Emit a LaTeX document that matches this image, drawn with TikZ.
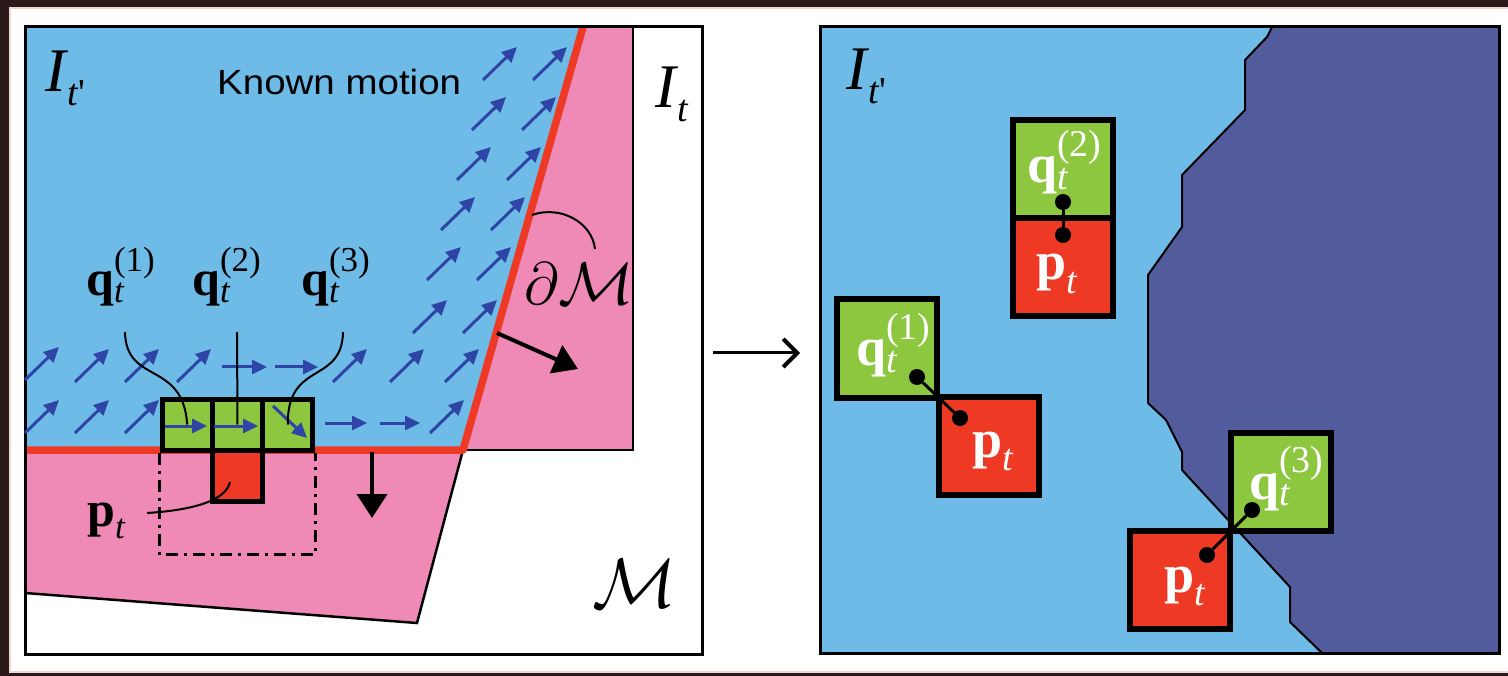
\RequirePackage{fix-cm}
\documentclass[tikz,border=0pt]{standalone}
\usepackage{amsmath}
\usepackage{graphicx}
\usepackage{fontspec}
\setmainfont{Liberation Serif}
\newfontfamily\arialf{Liberation Sans}
\usetikzlibrary{arrows.meta}
\definecolor{skyb}{HTML}{6EBBE8}
\definecolor{pinkm}{HTML}{EF8AB6}
\definecolor{grn}{HTML}{8DC63F}
\definecolor{redb}{HTML}{EE3A24}
\definecolor{darkb}{HTML}{525C9C}
\definecolor{arrb}{HTML}{2E45A5}
\definecolor{framedark}{HTML}{2B1A1A}
\definecolor{framepink}{HTML}{F2D6D2}
\tikzset{
  motion/.style={draw=arrb, line width=3pt, -{Triangle[length=15pt,width=14pt]}},
  frameline/.style={draw=black, line width=3pt},
  thinline/.style={draw=black, line width=2.5pt},
  lbox/.style={draw=black, line width=5pt, inner sep=0pt, minimum width=50.3pt, minimum height=51pt},
  rbox/.style={draw=black, line width=6pt, inner sep=0pt, minimum width=100pt, minimum height=98pt},
  leader/.style={draw=black, line width=2pt},
  bigarrow/.style={draw=black, line width=4pt, -{Triangle[length=24pt,width=30pt]}},
  blackdot/.style={circle, fill=black, inner sep=0pt, minimum size=16pt},
  dotlink/.style={draw=black, line width=3pt},
  lab/.style={inner sep=0pt, anchor=base west, font=\fontsize{50}{54}\selectfont},
  wlab/.style={inner sep=0pt, anchor=base west, text=white, font=\fontsize{54}{58}\selectfont},
  ilab/.style={inner sep=0pt, anchor=base west, font=\fontsize{62}{66}\selectfont},
}
\newcommand{\qlab}[1]{$\textbf{q}_{\textit{t}}^{\textrm{(#1)}}$}
\newcommand{\plab}{$\textbf{p}_{\textit{t}}$}
\newcommand{\Ilab}[1]{\textit{I}\kern-1pt\raisebox{-14pt}{\fontsize{38}{38}\selectfont\textit{t}#1}}
\begin{document}
\begin{tikzpicture}[x=1pt,y=-1pt]
\useasboundingbox (0,0) rectangle (1508,676);
% outer frame
\fill[framedark] (0,0) rectangle (1508,676);
\draw[framepink, line width=1.5pt, fill=white] (10,8) rectangle (1514,672);

% ---------------- left panel ----------------
\fill[skyb] (25,27) -- (583,27) -- (463,450) -- (25,450) -- cycle;
\fill[pinkm] (583,27) -- (633,27) -- (633,450) -- (463,450) -- cycle;
\fill[pinkm] (25,450) -- (463,450) -- (417,623) -- (25,593) -- cycle;
\draw[thinline] (633,27) -- (633,450) -- (463,450);
\draw[thinline] (25,593) -- (417,623) -- (463,450);
\draw[redb, line width=7.5pt, line join=round] (25,450) -- (463,450) -- (583,27);
\draw[frameline] (25,27) rectangle (702,654);

% motion field
\foreach \x/\y in {483/80,533/80,472/130,522/130,457/180,507/180,441/230,491/230,
  427/280,477/280,413/333,463/333,
  25/380,75/382,125/382,177/382,333/382,390/382,445/382,
  25/433,75/433,125/433,430/433}
  \draw[motion] (\x,\y) -- ++(34,-33);
\foreach \x/\y/\l in {222/367/45,275/367/43,325/423/42,380/423/40}
  \draw[motion] (\x,\y) -- ++(\l,0);

% patch boxes
\node[lbox, fill=redb] (pbox) at (237.5,476) {};
\node[lbox, fill=grn] (q1box) at (187.2,424.5) {};
\node[lbox, fill=grn] (q2box) at (237.5,424.5) {};
\node[lbox, fill=grn] (q3box) at (287.8,424.5) {};
\draw[motion] (165,426) -- (207,426);
\draw[motion] (214,426) -- (258,426);
\draw[motion] (273,406) -- (307,438);
\draw[black, line width=3pt, dash pattern=on 12pt off 6pt on 3pt off 6pt]
  (q1box.south west) -- ++(0,102) -| (q3box.south east);

% normal arrows
\coordinate (n1a) at (372,452);
\coordinate (n1b) at (372,518);
\coordinate (n2a) at (497,333);
\coordinate (n2b) at (578,369);
\draw[bigarrow] (n1a) -- (n1b);
\draw[bigarrow] (n2a) -- (n2b);

% labels left
\node[ilab] (itp1) at (45,92) {\Ilab{\textquotesingle}};
\node[ilab] (it1) at (655,108) {\Ilab{}};
\node[inner sep=0pt, anchor=base west, font=\arialf\fontsize{35}{38}\selectfont] (known) at (217,95) {\scalebox{1.1}[1]{Known motion}};
\node[lab] (lq1) at (86,296) {\qlab{1}};
\node[lab] (lq2) at (192,296) {\qlab{2}};
\node[lab] (lq3) at (301,296) {\qlab{3}};
\node[lab] (lp) at (87,526) {\plab};
\node[inner sep=0pt, anchor=base west, font=\fontsize{60}{64}\selectfont] (dM) at (524,305) {$\partial\scalebox{1.05}[1]{$\mathcal{M}$}$};
\node[inner sep=0pt, anchor=base west, font=\fontsize{70}{74}\selectfont] (M) at (592,607) {$\mathcal{M}$};

% leaders
\coordinate (l1) at (125,332);
\coordinate (l2) at (237,332);
\coordinate (l3) at (343,332);
\coordinate (lp0) at (147,513);
\coordinate (lp1) at (230,482);
\coordinate (ld0) at (532,215);
\coordinate (ld1) at (595,249);
\draw[leader] (l1) .. controls (126,385) and (183,360) .. (q1box.center);
\draw[leader] (l2) -- (q2box.center);
\draw[leader] (l3) .. controls (342,385) and (287,360) .. (q3box.center);
\draw[leader] (lp0) .. controls (195,510) and (226,500) .. (lp1);
\draw[leader] (ld0) .. controls (560,205) and (592,222) .. (ld1);

% middle arrow
\coordinate (ma) at (713,353);
\coordinate (mb) at (800,353);
\draw[black, line width=3pt, -{Straight Barb[length=14pt,width=28pt,line width=4pt]}] (ma) -- (mb);

% ---------------- right panel ----------------
\fill[skyb] (820,27) rectangle (1499,653);
\filldraw[fill=darkb, draw=black, line width=2pt, line join=round]
  (1272,27) -- (1267,37) -- (1245,60) -- (1245,110) -- (1182,175) -- (1182,227)
  -- (1148,275) -- (1148,403) -- (1166,420) -- (1182,452) -- (1182,470)
  -- (1290,587) -- (1290,622) -- (1322,653) -- (1499,653) -- (1499,27) -- cycle;
\draw[frameline] (820,27) rectangle (1499,653);
\node[ilab] (itp2) at (846,90) {\Ilab{\textquotesingle}};

\node[rbox, fill=grn] (g2) at (1062.5,169.5) {};
\node[rbox, fill=redb] (r2) at (1062.5,267.5) {};
\node[rbox, fill=grn] (g1) at (887,348.5) {};
\node[rbox, fill=redb] (r1) at (989,446) {};
\node[rbox, fill=redb] (r3) at (1180,580) {};
\node[rbox, fill=grn] (g3) at (1280.5,481.5) {};

\node[wlab] (tq2) at (1027,183) {\qlab{2}};
\node[wlab] (tp2) at (1036,280) {\plab};
\node[wlab] (tq1) at (856,366) {\qlab{1}};
\node[wlab] (tp1) at (972,457) {\plab};
\node[wlab] (tq3) at (1249,499) {\qlab{3}};
\node[wlab] (tp3) at (1164,592) {\plab};

\node[blackdot] (dq2) at (1063,202) {};
\node[blackdot] (dp2) at (1063,235) {};
\node[blackdot] (dq1) at (917,377) {};
\node[blackdot] (dp1) at (960,418) {};
\node[blackdot] (dq3) at (1252,510) {};
\node[blackdot] (dp3) at (1207,555) {};
\draw[dotlink] (dq2) -- (dp2);
\draw[dotlink] (dq1) -- (dp1);
\draw[dotlink] (dq3) -- (dp3);
\end{tikzpicture}
\end{document}
